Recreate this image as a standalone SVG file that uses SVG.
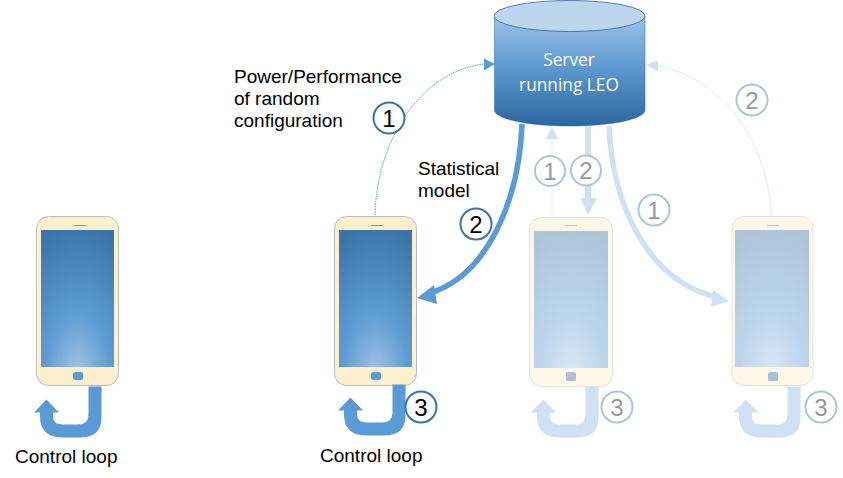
<svg xmlns="http://www.w3.org/2000/svg" width="843" height="478" viewBox="0 0 843 478">
<style>
text{font-family:"Liberation Sans",Arial,sans-serif;font-size:19px;fill:#000}
text.n{font-size:24px;text-anchor:middle}
text.ln{fill:#999}
.cd{fill:#fff;stroke:#3b73a8;stroke-width:2}
.cl{fill:#fff;stroke:#adc4da;stroke-width:2}
.body{fill:#fff0cd;stroke:#b5bfc4;stroke-width:1}
.bodyl{fill:#fff8e8;stroke:#e0e4e6;stroke-width:1}
.lb{fill:#5b9bd5}
.ll{fill:#cfe1f3}
text.t{fill:#fff;font-family:"Open Sans","Noto Sans",sans-serif;font-size:17.300px;text-anchor:middle}
</style>
<defs>
<radialGradient id="sd" gradientUnits="objectBoundingBox" cx="0.5" cy="1.05" r="1.1">
<stop offset="0" stop-color="#a3c4e4"/><stop offset="0.4" stop-color="#5e9cd3"/><stop offset="1" stop-color="#3a74a9"/>
</radialGradient>
<radialGradient id="sl" gradientUnits="objectBoundingBox" cx="0.5" cy="1.05" r="1.1">
<stop offset="0" stop-color="#dae8f5"/><stop offset="0.4" stop-color="#bdd5ec"/><stop offset="1" stop-color="#adc4da"/>
</radialGradient>
<linearGradient id="cy" x1="0" y1="0" x2="0" y2="1">
<stop offset="0" stop-color="#9cc3e7"/><stop offset="0.45" stop-color="#5f9ad0"/><stop offset="1" stop-color="#2c66a0"/>
</linearGradient>
<path id="loop" d="M0 0H13V31Q13 51 -8.500 51H-25.500Q-48.500 51 -48.500 30V26H-54.500L-42 13L-29.500 26H-35.500V30Q-35.500 38 -25.500 38H-10.500Q0 38 0 28Z"/>
</defs>
<g id="connectors" fill="none">
<path d="M375 215C377 140 420 72 484 64" stroke="#5b9bd5" stroke-width="1" stroke-dasharray="1.500 1"/>
<path d="M484 58.500L495 64L484 70.500Z" fill="#5b9bd5"/>
<path d="M522 124C519 200 488 275 430 293" stroke="#5b9bd5" stroke-width="5.500"/>
<path d="M434 285L417 298L437 304Z" fill="#5b9bd5"/>
<path d="M552 214V136" stroke="#cfe1f3" stroke-width="1" stroke-dasharray="1.500 1"/>
<path d="M546 139L552 127L558 139Z" fill="#cfe1f3"/>
<path d="M588 126V200" stroke="#cfe1f3" stroke-width="6"/>
<path d="M580 198H597L588 215Z" fill="#cfe1f3"/>
<path d="M609 126C612 200 645 280 716 297" stroke="#cfe1f3" stroke-width="5.500"/>
<path d="M713 290L729 301L711 307Z" fill="#cfe1f3"/>
<path d="M771 215C768 135 715 75 657 66" stroke="#dfeaf5" stroke-width="1"/>
<path d="M658 60L646 65L658 71Z" fill="#cfe1f3"/>
</g>
<g id="phone1">
<rect class="body" x="36.500" y="216.500" width="82" height="169" rx="12"/>
<rect x="41" y="230" width="73" height="137" fill="url(#sd)"/>
<rect x="74" y="225" width="12" height="1" fill="#5b9bd5"/>
<rect class="lb" x="73" y="372" width="10" height="8" rx="2"/>
<use href="#loop" x="88.500" y="386.500" class="lb"/>
</g>
<g id="phone2">
<rect class="body" x="334.500" y="216.500" width="82" height="169" rx="12"/>
<rect x="339" y="230" width="73" height="137" fill="url(#sd)"/>
<rect x="371" y="225" width="12" height="1" fill="#5b9bd5"/>
<rect class="lb" x="371" y="372" width="10" height="8" rx="2"/>
<use href="#loop" x="392.500" y="384.500" class="lb"/>
</g>
<g id="phone3">
<rect class="bodyl" x="529.500" y="217.500" width="83" height="169" rx="12"/>
<rect x="534" y="231" width="74" height="137" fill="url(#sl)"/>
<rect x="565" y="225" width="12" height="1" fill="#adc4da"/>
<rect x="566" y="372" width="10" height="9" rx="1.500" fill="#adbfdb"/>
<use href="#loop" x="585.500" y="386.500" class="ll"/>
</g>
<g id="phone4">
<rect class="bodyl" x="732" y="216.500" width="81" height="169" rx="12"/>
<rect x="735" y="230" width="74" height="137" fill="url(#sl)"/>
<rect x="767" y="225" width="12" height="1" fill="#adc4da"/>
<rect x="768" y="372" width="10" height="9" rx="1.500" fill="#adbfdb"/>
<use href="#loop" x="787.500" y="386.500" class="ll"/>
</g>
<g id="server">
<path d="M494.500 16V110C494.500 119 528 126 570 126S645 119 645 110V16Z" fill="url(#cy)" stroke="#2c66a0" stroke-width="0.500"/>
<ellipse cx="569.500" cy="16" rx="75.500" ry="15.500" fill="#bcd6ee" stroke="#2c66a0" stroke-width="0.800"/>
<text class="t" x="569" y="65.500">Server</text>
<text class="t" x="569" y="91">running LEO</text>
</g>
<g id="badges">
<circle class="cd" cx="389" cy="118" r="15.500"/><text class="n" x="389" y="126.500">1</text>
<circle class="cd" cx="476" cy="224" r="15.500"/><text class="n" x="476" y="232.500">2</text>
<circle class="cd" cx="421" cy="407" r="15.500"/><text class="n" x="421" y="415.500">3</text>
<circle class="cl" cx="550" cy="171" r="15"/><text class="n ln" x="550" y="179.500">1</text>
<circle class="cl" cx="586" cy="170.500" r="15"/><text class="n ln" x="586" y="179">2</text>
<circle class="cl" cx="654" cy="210" r="15.500"/><text class="n ln" x="654" y="218.500">1</text>
<circle class="cl" cx="617" cy="407" r="15.500"/><text class="n ln" x="617" y="415.500">3</text>
<circle class="cl" cx="821" cy="407" r="15.500"/><text class="n ln" x="821" y="415.500">3</text>
<circle class="cl" cx="752" cy="100" r="15.500"/><text class="n ln" x="752" y="108.500">2</text>
</g>
<g id="labels">
<text x="234" y="83">Power/Performance</text>
<text x="234" y="105">of random</text>
<text x="234" y="127">configuration</text>
<text x="418" y="175">Statistical</text>
<text x="418" y="197">model</text>
<text x="15" y="463">Control loop</text>
<text x="320" y="462">Control loop</text>
</g>
</svg>
